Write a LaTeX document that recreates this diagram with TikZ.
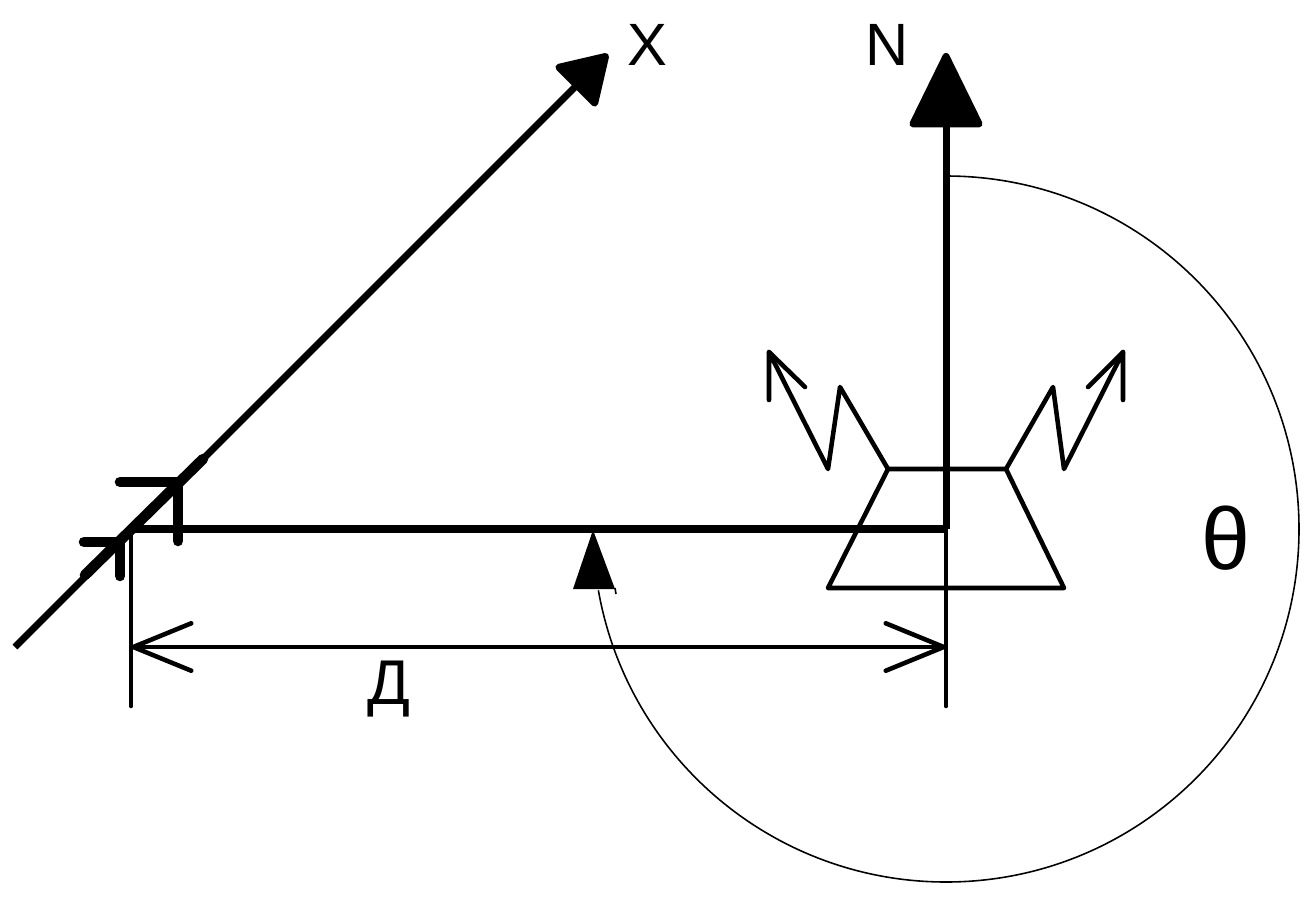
\documentclass[tikz,border=0pt]{standalone}
\usepackage{fontspec}
\setmainfont{Liberation Sans}
\usetikzlibrary{arrows.meta}

\begin{document}
\begin{tikzpicture}[x=0.02cm, y=-0.02cm, line join=round,
    eje/.style={line width=4pt},
    fino/.style={line width=2.6pt, line cap=round},
    marca/.style={line width=6pt, line cap=round},
    cota/.style={fino, {Straight Barb[length=33pt, width=27pt, round]}-{Straight Barb[length=33pt, width=27pt, round]}},
    letra/.style={inner sep=0pt, anchor=base, font=\fontsize{34}{34}\selectfont}]
            \useasboundingbox (0,0) rectangle (1314,896);

            % Puntos
            \coordinate (o) at (946,529);
            \coordinate (a) at (131,529);
            \coordinate (n) at (946,53);
            \coordinate (x0) at (15,647);
            \coordinate (x1) at (608,54);
            \coordinate (oc) at (946,706);
            \coordinate (ac) at (131,706);
            \coordinate (d1) at (131,647);
            \coordinate (d2) at (946,647);
            \coordinate (t1) at (888,469);
            \coordinate (t2) at (1006,469);
            \coordinate (t3) at (1064,588);
            \coordinate (t4) at (828,588);

            % Letras
            \node[letra] (lx) at (647,65) {X};
            \node[letra] (ln) at (887,65) {N};
            \node[letra, font=\fontsize{36}{36}\selectfont] (ld) at (389,704) {Д};
            \node[letra, font=\fontsize{50}{50}\selectfont] (lt) at (1225.5,569) {θ};

            % Ejes
            \draw[eje, -{Triangle[length=29pt, width=35pt, round]}] (x0) -- (x1);
            \draw[eje, -{Triangle[length=45pt, width=43pt, round]}] (o) -- (n);
            \draw[eje] (a) -- (o);

            % Marcas
            \draw[marca] (85,575) -- (203,459);
            \draw[marca] (120,482) -- (178,482) -- (178,541);
            \draw[marca] (84,542) -- (120,542) -- (120,576);

            % Cotas
            \draw[fino] (o) -- (oc);
            \draw[fino] (131,535) -- (ac);
            \draw[cota] (d1) -- (d2);

            % Antena
            \draw[fino] (t1) -- (t2) -- (t3) -- (t4) -- cycle;
            \draw[fino] (t1) -- (840,387) -- (828,469) -- (769,352) -- (769,400);
            \draw[fino] (769,352) -- (805,387);
            \draw[fino] (t2) -- (1053,387) -- (1064,469) -- (1123,352) -- (1123,400);
            \draw[fino] (1123,352) -- (1088,387);

            % Angulo
            \draw[line width=0.9pt] (946,176) arc[start angle=-90, end angle=170, radius=353];
            \fill (593,530) -- (615,589) -- (573,589) -- cycle;
            \draw[line width=0.9pt] (615,588) -- (616,594);
          \end{tikzpicture}
\end{document}
